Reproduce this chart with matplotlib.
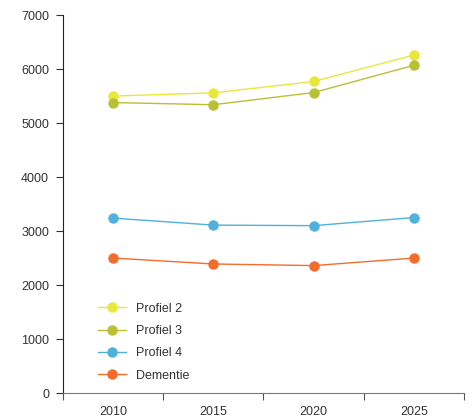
import matplotlib.pyplot as plt
import numpy as np

years = ['2010', '2015', '2020', '2025']
profiel_2 = [5500, 5560, 5770, 6260]
profiel_3 = [5380, 5340, 5565, 6070]
profiel_4 = [3240, 3110, 3100, 3250]
dementie = [2500, 2390, 2360, 2500]

series = [
    ('Profiel 2', profiel_2, '#e9e83a'),
    ('Profiel 3', profiel_3, '#b9c033'),
    ('Profiel 4', profiel_4, '#4fb1dc'),
    ('Dementie', dementie, '#f26c2b'),
]

plt.rcParams['font.family'] = ['Liberation Sans', 'DejaVu Sans']

fig = plt.figure(figsize=(4.73, 4.19), dpi=100)
ax = fig.add_axes([0.133, 0.062, 0.848, 0.902])

x = np.arange(len(years))
for name, vals, col in series:
    ax.plot(x, vals, color=col, lw=1.0, marker='o', markersize=6.5, label=name)

ax.set_xlim(-0.5, len(years) - 0.5)
ax.set_ylim(0, 7000)
ax.set_yticks(range(0, 7001, 1000))

# ticks sit between the categories, labels at the centres
ax.set_xticks(np.arange(-0.5, len(years), 1.0))
ax.set_xticklabels([])
ax.set_xticks(x, minor=True)
ax.set_xticklabels(years, minor=True)
ax.tick_params(axis='x', which='minor', length=0, pad=9.5, labelsize=9, labelcolor='#333333')
ax.tick_params(axis='x', which='major', length=5, color='#555555', direction='out')
ax.tick_params(axis='y', length=5, pad=5, color='#333333', labelsize=9, labelcolor='#333333')

for s in ['top', 'right']:
    ax.spines[s].set_visible(False)
ax.spines['left'].set_color('#222222')
ax.spines['bottom'].set_color('#777777')

ax.legend(loc='lower left', bbox_to_anchor=(0.06, 0.0), frameon=False,
          fontsize=9, handlelength=2.2, handletextpad=0.8, labelspacing=0.83,
          labelcolor='#333333')

fig.savefig('out.png', dpi=100)
